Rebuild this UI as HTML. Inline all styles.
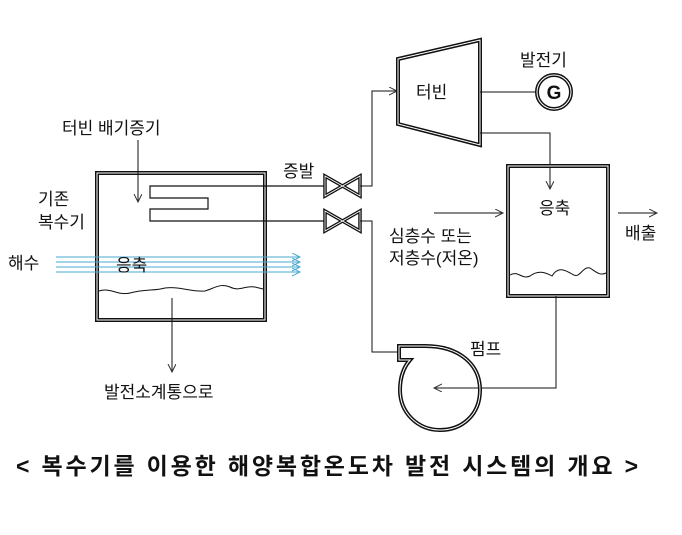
<!DOCTYPE html>
<html><head><meta charset="utf-8">
<style>
html,body{margin:0;padding:0;background:#fff;}
svg{display:block;}
text{font-family:"Liberation Sans","Noto Sans CJK KR",sans-serif;fill:#111;}
</style></head><body>
<svg width="682" height="535" viewBox="0 0 682 535" xmlns="http://www.w3.org/2000/svg">
<defs>
<marker id="ar" markerWidth="10" markerHeight="10" refX="8" refY="4" orient="auto" markerUnits="userSpaceOnUse">
<path d="M0,0 L8,4 L0,8" fill="none" stroke="#333" stroke-width="1"/>
</marker>
<marker id="ab" markerWidth="10" markerHeight="10" refX="8" refY="4" orient="auto" markerUnits="userSpaceOnUse">
<path d="M0,0 L8,4 L0,8" fill="none" stroke="#4aa8d0" stroke-width="1"/>
</marker>
</defs>
<g fill="none" stroke="#111">
<rect x="97" y="173" width="168" height="147" stroke-width="4"/>
<rect x="97" y="173" width="168" height="147" stroke="#fff" stroke-width="1"/>
<path d="M99,291 C110,287 118,296 130,293 C145,289 155,291 165,288 C180,286 190,292 205,291 C215,288 220,283 230,287 C240,292 245,285 255,287 L263,289" stroke-width="1"/>
<path d="M325,186 L150,186 L150,198 L208,198 L208,209 L150,209 L150,221 L325,221" stroke-width="1.2"/>
<path d="M325,176 L360,196 L360,176 L325,196 Z" stroke-width="3.5"/>
<path d="M325,176 L360,196 L360,176 L325,196 Z" stroke="#fff" stroke-width="0.8"/>
<path d="M325,211 L360,231 L360,211 L325,231 Z" stroke-width="3.5"/>
<path d="M325,211 L360,231 L360,211 L325,231 Z" stroke="#fff" stroke-width="0.8"/>
<path d="M360,186 L372,186 L372,91 L397,91" stroke-width="1" marker-end="url(#ar)"/>
<path d="M360,221 L372,221 L372,352 L399,352" stroke-width="1"/>
<path d="M398,59 L480,40 L480,145 L398,124 Z" stroke-width="4"/>
<path d="M398,59 L480,40 L480,145 L398,124 Z" stroke="#fff" stroke-width="1"/>
<path d="M480,92 L536,92" stroke-width="1"/>
<circle cx="554" cy="92" r="17" stroke-width="4"/>
<circle cx="554" cy="92" r="17" stroke="#fff" stroke-width="1"/>
<path d="M480,133 L550,133 L550,189" stroke-width="1" marker-end="url(#ar)"/>
<rect x="508" y="166" width="100" height="130" stroke-width="4"/>
<rect x="508" y="166" width="100" height="130" stroke="#fff" stroke-width="1"/>
<path d="M510,275 C518,270 522,280 530,276 C538,270 545,272 552,276 C558,266 565,270 572,274 C580,280 582,266 590,268 C596,272 600,276 606,273" stroke-width="1"/>
<path d="M434,213 L503,213" stroke-width="1" marker-end="url(#ar)"/>
<path d="M618,213 L657,213" stroke-width="1" marker-end="url(#ar)"/>
<path d="M556,296 L556,388 L434,388" stroke-width="1" marker-end="url(#ar)"/>
<path d="M399,346 L425,346 C460,346 480,365 480,390 C480,415 462,430 440,430 C418,430 400,413 400,390 C400,378 403,368 410,360 L399,360 Z" stroke-width="4"/>
<path d="M399,346 L425,346 C460,346 480,365 480,390 C480,415 462,430 440,430 C418,430 400,413 400,390 C400,378 403,368 410,360 L399,360 Z" stroke="#fff" stroke-width="1"/>
<path d="M138,140 L138,202" stroke-width="1" marker-end="url(#ar)"/>
<path d="M172,298 L172,372" stroke-width="1" marker-end="url(#ar)"/>
<g stroke="#4aa8d0" stroke-width="1">
<path d="M56,257 L300,257" marker-end="url(#ab)"/>
<path d="M56,262 L300,262" marker-end="url(#ab)"/>
<path d="M56,267 L300,267" marker-end="url(#ab)"/>
<path d="M56,272 L300,272" marker-end="url(#ab)"/>
</g>
</g>
<g font-size="17">
<text x="62" y="134">터빈 배기증기</text>
<text x="38" y="205">기존</text>
<text x="38" y="228">복수기</text>
<text x="8" y="269">해수</text>
<text x="116" y="271">응축</text>
<text x="283" y="177">증발</text>
<text x="104" y="398">발전소계통으로</text>
<text x="416" y="98">터빈</text>
<text x="520" y="66">발전기</text>
<text x="539" y="214">응축</text>
<text x="389" y="242">심층수 또는</text>
<text x="389" y="264">저층수(저온)</text>
<text x="625" y="239">배출</text>
<text x="470" y="355">펌프</text>
</g>
<text x="554" y="99" font-size="19" font-weight="bold" text-anchor="middle">G</text>
<text x="16" y="474" font-size="23" font-weight="bold" textLength="622" lengthAdjust="spacing">&lt; 복수기를 이용한 해양복합온도차 발전 시스템의 개요 &gt;</text>
</svg>
</body></html>
